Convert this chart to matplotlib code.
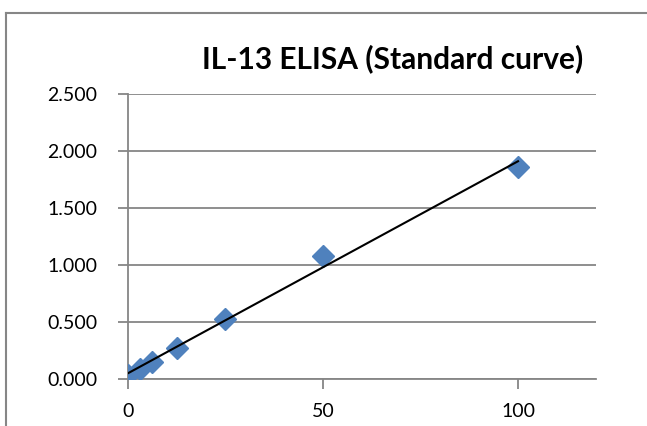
import matplotlib.pyplot as plt
from matplotlib.lines import Line2D
import numpy as np

# standard concentrations and OD readings
conc = [0, 3.125, 6.25, 12.5, 25, 50, 100]
od = [0.035, 0.09, 0.15, 0.27, 0.53, 1.08, 1.86]
x_ticks = [0, 50, 100]
y_ticks = [0.0, 0.5, 1.0, 1.5, 2.0, 2.5]

plt.rcParams['font.family'] = ['Lato', 'DejaVu Sans']

fig = plt.figure(figsize=(6.47, 4.26), dpi=100)
ax = fig.add_axes([0.1978, 0.1103, 0.7234, 0.669])

# chart border (top and left only, the rest is cut off)
bx = 6 / 647
by = (426 - 13) / 426
fig.lines.append(Line2D([bx, 1.0], [by, by], transform=fig.transFigure,
                        color='#868686', linewidth=1.5))
fig.lines.append(Line2D([bx, bx], [0.0, by], transform=fig.transFigure,
                        color='#868686', linewidth=1.5))

ax.plot(conc, od, linestyle='none', marker='D', markersize=11.5,
        color='#4F81BD', zorder=3)

# linear trendline
m, b = np.polyfit(conc, od, 1)
xs = np.array([0, 100])
ax.plot(xs, m * xs + b, color='black', linewidth=1.5, zorder=4)

ax.set_xlim(0, 120)
ax.set_ylim(0, 2.5)
ax.set_xticks(x_ticks)
ax.set_yticks(y_ticks)
ax.set_yticklabels([f"{v:.3f}" for v in y_ticks])
ax.grid(axis='y', color='#868686', linewidth=1.3)
ax.set_axisbelow(True)
for s in ['top', 'right']:
    ax.spines[s].set_visible(False)
for s in ['left', 'bottom']:
    ax.spines[s].set_color('#868686')
    ax.spines[s].set_linewidth(1.3)
ax.tick_params(axis='both', direction='out', length=7, width=1.3,
               color='#868686', labelsize=14)
ax.tick_params(axis='y', pad=15)
ax.tick_params(axis='x', pad=10)

fig.text(0.607, 0.862, "IL-13 ELISA (Standard curve)", ha='center', va='center',
         fontsize=21.5, fontweight='bold')

fig.savefig("out.png", dpi=100)
